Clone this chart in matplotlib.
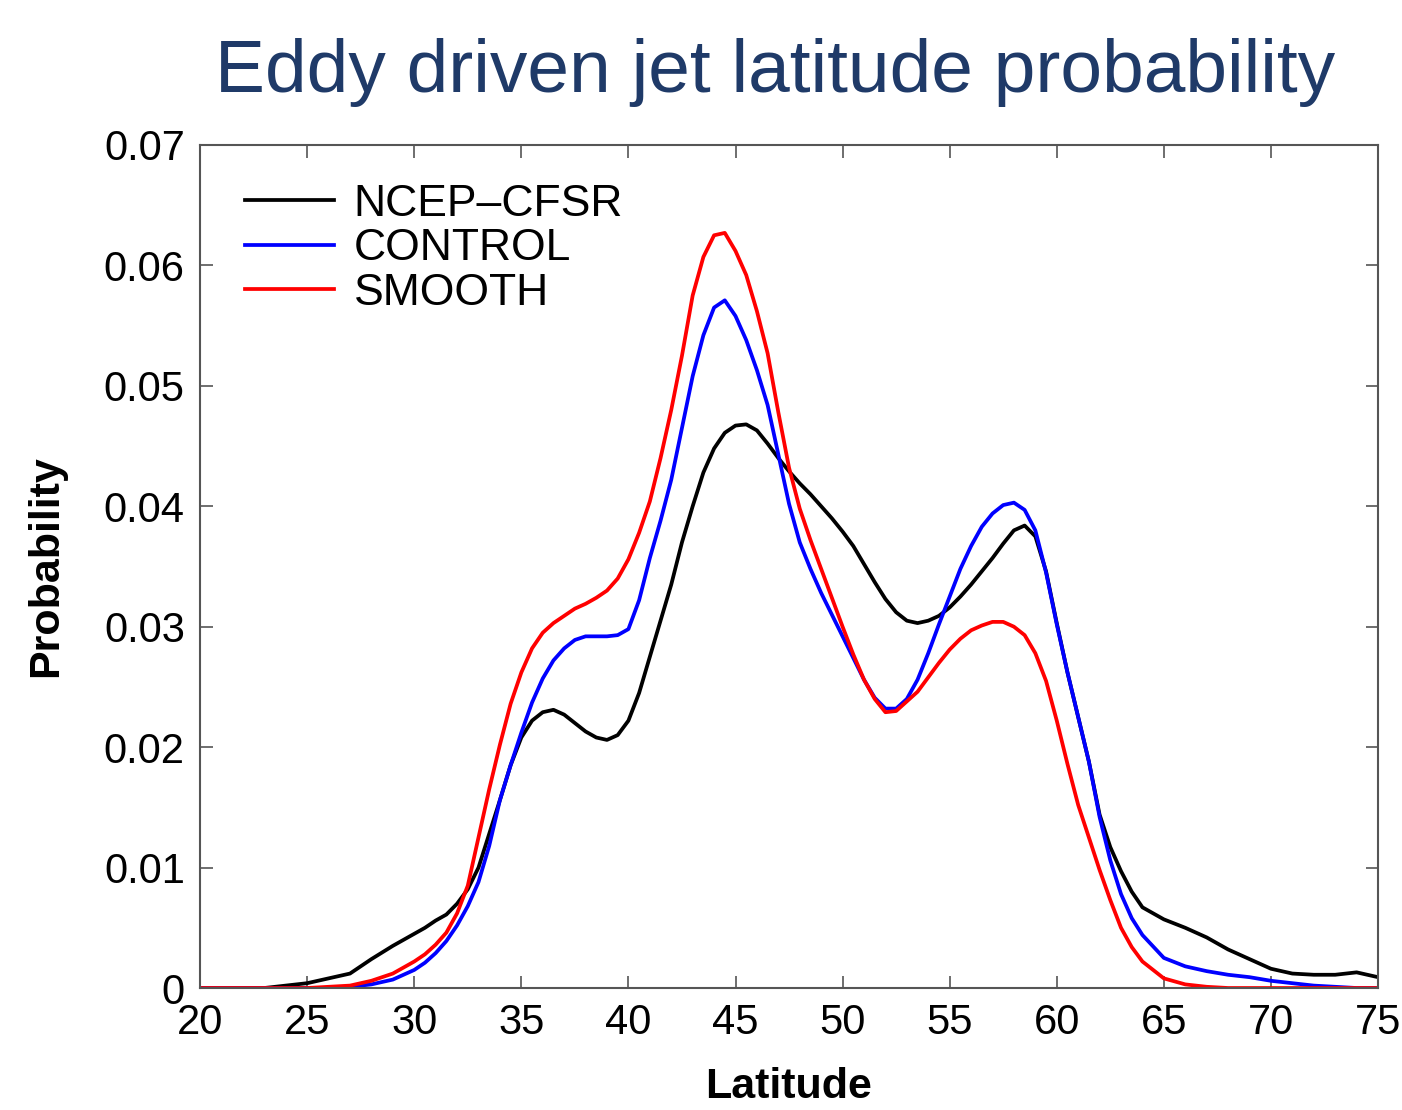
import matplotlib
matplotlib.use('Agg')
import matplotlib.pyplot as plt
import numpy as np

plt.rcParams['font.family'] = ['Liberation Sans', 'DejaVu Sans']

# latitude grid (deg N): 1 deg in the tails, 0.5 deg through the jet
lat = (list(range(20, 30)) + [30 + 0.5 * i for i in range(69)]
       + list(range(65, 76)))

ncep = [0, 0, 0, 0, 0.0002, 0.0004, 0.0008, 0.0012, 0.0024, 0.0035,
        # 30 .. 64 by 0.5
        0.0045, 0.0050, 0.0056, 0.0061, 0.0070, 0.0082, 0.0100, 0.0128, 0.0156, 0.0185,
        0.0208, 0.0222, 0.0229, 0.0231, 0.0227, 0.0220, 0.0213, 0.0208, 0.0206, 0.0210,
        0.0222, 0.0245, 0.0275, 0.0305, 0.0335, 0.0370, 0.0400, 0.0428, 0.0448, 0.0461,
        0.0467, 0.0468, 0.0463, 0.0452, 0.0440, 0.0429, 0.0419, 0.0410, 0.0400, 0.0390,
        0.0379, 0.0367, 0.0352, 0.0337, 0.0323, 0.0312, 0.0305, 0.0303, 0.0305, 0.0309,
        0.0316, 0.0325, 0.0335, 0.0346, 0.0357, 0.0369, 0.0380, 0.0384, 0.0375, 0.0346,
        0.0303, 0.0262, 0.0225, 0.0188, 0.0144, 0.0117, 0.0097, 0.0080, 0.0067,
        # 65 .. 75
        0.0057, 0.0050, 0.0042, 0.0032, 0.0024, 0.0016, 0.0012, 0.0011, 0.0011, 0.0013,
        0.0009]

control = [0, 0, 0, 0, 0, 0, 0, 0.0001, 0.0003, 0.0007,
           0.0015, 0.0021, 0.0029, 0.0039, 0.0052, 0.0068, 0.0088, 0.0118, 0.0156, 0.0185,
           0.0212, 0.0237, 0.0257, 0.0272, 0.0282, 0.0289, 0.0292, 0.0292, 0.0292, 0.0293,
           0.0298, 0.0322, 0.0357, 0.0388, 0.0422, 0.0465, 0.0508, 0.0542, 0.0565, 0.0571,
           0.0558, 0.0538, 0.0513, 0.0484, 0.0443, 0.0402, 0.0370, 0.0348, 0.0328, 0.0310,
           0.0292, 0.0274, 0.0256, 0.0241, 0.0232, 0.0232, 0.0240, 0.0256, 0.0278, 0.0302,
           0.0325, 0.0348, 0.0367, 0.0383, 0.0394, 0.0401, 0.0403, 0.0397, 0.0380, 0.0345,
           0.0302, 0.0262, 0.0225, 0.0188, 0.0142, 0.0106, 0.0078, 0.0058, 0.0044,
           0.0025, 0.0018, 0.0014, 0.0011, 0.0009, 0.0006, 0.0004, 0.0002, 0.0001, 0,
           0]

smooth = [0, 0, 0, 0, 0, 0, 0.0001, 0.0002, 0.0006, 0.0012,
          0.0022, 0.0028, 0.0036, 0.0046, 0.0062, 0.0085, 0.0125, 0.0165, 0.0202, 0.0236,
          0.0262, 0.0282, 0.0295, 0.0303, 0.0309, 0.0315, 0.0319, 0.0324, 0.0330, 0.0340,
          0.0356, 0.0378, 0.0404, 0.0440, 0.0480, 0.0525, 0.0575, 0.0607, 0.0625, 0.0627,
          0.0612, 0.0592, 0.0562, 0.0527, 0.0478, 0.0432, 0.0398, 0.0372, 0.0348, 0.0324,
          0.0300, 0.0277, 0.0256, 0.0240, 0.0229, 0.0230, 0.0238, 0.0246, 0.0258, 0.0270,
          0.0281, 0.0290, 0.0297, 0.0301, 0.0304, 0.0304, 0.0300, 0.0293, 0.0278, 0.0255,
          0.0222, 0.0186, 0.0152, 0.0125, 0.0098, 0.0073, 0.0050, 0.0034, 0.0022,
          0.0008, 0.0003, 0.0001, 0, 0, 0, 0, 0, 0, 0,
          0]

fig = plt.figure(figsize=(14.02, 11.10), dpi=100)
ax = fig.add_axes([0.1427, 0.1099, 0.8402, 0.7595])

ax.plot(lat, ncep, color='black', lw=2.7, label='NCEP\u2013CFSR')
ax.plot(lat, control, color='#0000ff', lw=2.7, label='CONTROL')
ax.plot(lat, smooth, color='#ff0000', lw=2.7, label='SMOOTH')

ax.set_xlim(20, 75)
ax.set_ylim(0, 0.07)
ax.set_xticks(range(20, 76, 5))
ax.set_yticks([0, 0.01, 0.02, 0.03, 0.04, 0.05, 0.06, 0.07])
ax.set_yticklabels(['0', '0.01', '0.02', '0.03', '0.04', '0.05', '0.06', '0.07'])
ax.tick_params(direction='in', length=9, width=1.2, top=True, right=True,
               labelsize=30, color='#555555', pad=11)
for s in ax.spines.values():
    s.set_color('#555555')
    s.set_linewidth(1.5)

ax.set_xlabel('Latitude', fontsize=31, fontweight='bold', labelpad=17)
ax.set_ylabel('Probability', fontsize=31, fontweight='bold', labelpad=27)

leg = ax.legend(loc='upper left', fontsize=32, frameon=False, handlelength=2.0,
                handletextpad=0.45, labelspacing=0.08, borderaxespad=0,
                bbox_to_anchor=(0.023, 0.975))

fig.text(0.553, 0.935, 'Eddy driven jet latitude probability', fontsize=54,
         color='#1f3a68', ha='center', va='center')

plt.savefig('out.png', dpi=100)
